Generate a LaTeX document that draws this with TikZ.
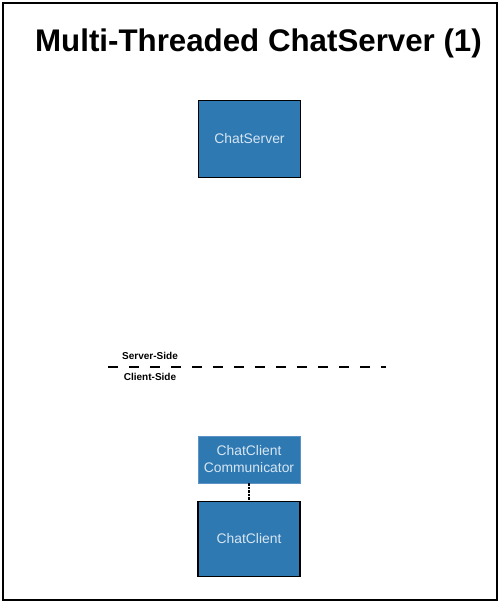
\documentclass[tikz,border=0pt]{standalone}
\usepackage{fontspec}
\setmainfont{Liberation Sans}
\usetikzlibrary{shadows}
\definecolor{boxblue}{RGB}{47,121,179}
\definecolor{boxedge}{RGB}{92,147,196}
\definecolor{boxtext}{RGB}{214,230,242}
\begin{document}
\begin{tikzpicture}[
  classbox/.style={draw=black, line width=1.1pt, fill=boxblue, text=boxtext,
    font=\fontsize{7.9}{9.7}\selectfont, align=center, inner sep=0pt,
    minimum width=2.04cm, drop shadow={shadow xshift=0.5pt, shadow yshift=-0.5pt, opacity=0.4}},
  sidelabel/.style={font=\bfseries\fontsize{5.7}{7}\selectfont}
]
  \useasboundingbox (0,0) rectangle (10,12.08);
  \draw[line width=0.85pt] (0.06,0.08) rectangle (9.94,12.02);

  \node (title) [font=\bfseries\fontsize{17.8}{20}\selectfont] at (5.17,11.22) {Multi-Threaded ChatServer (1)};

  \node (server) [classbox, minimum height=1.54cm] at (4.99,9.30) {ChatServer};

\node (serverside) [sidelabel] at (3.0,4.96) {Server-Side};
\node (clientside) [sidelabel] at (3.0,4.54) {Client-Side};

\coordinate (split west) at (2.16,4.74);
\coordinate (split east) at (7.72,4.74);
\draw[line width=0.6pt, dash pattern=on 0.2cm off 0.22cm] (split west)--(split east);

  \node (comm) [classbox, draw=boxedge, line width=0.5pt, drop shadow={opacity=0}, minimum height=0.94cm] at (4.98,2.89) {ChatClient\\Communicator};
  \node (client) [classbox, minimum height=1.50cm] at (4.98,1.30) {ChatClient};

\draw[line width=0.6pt, dash pattern=on 1.2pt off 0.8pt] (comm)--(client);

\end{tikzpicture}
\end{document}
